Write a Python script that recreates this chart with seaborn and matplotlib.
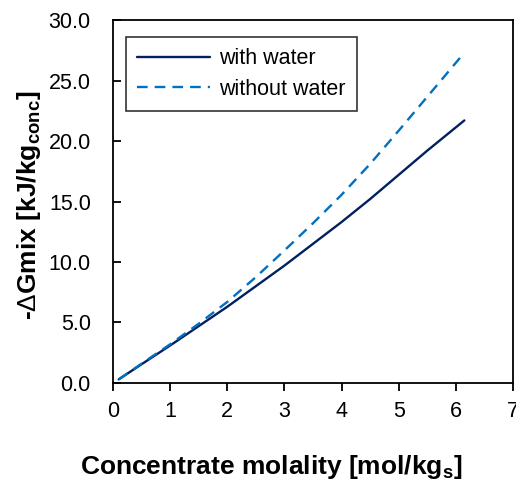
import matplotlib
matplotlib.use("Agg")
import matplotlib.pyplot as plt
import seaborn as sns
import pandas as pd

# Concentrate molality [mol/kg_s]
molality = [0.1, 0.5, 1.0, 1.5, 2.0, 2.5, 3.0, 3.5, 4.0, 4.5, 5.0, 5.5, 6.15]
# -dG_mix [kJ/kg_conc]
with_water = [0.3, 1.55, 3.1, 4.7, 6.3, 8.0, 9.7, 11.5, 13.3, 15.2, 17.2, 19.2, 21.7]
without_water = [0.3, 1.6, 3.2, 4.9, 6.7, 8.75, 10.95, 13.2, 15.55, 18.1, 20.85, 23.65, 27.3]
y_ticks = [0, 5, 10, 15, 20, 25, 30]
x_ticks = [0, 1, 2, 3, 4, 5, 6, 7]

series_names = ["with water", "without water"]
series_colors = {"with water": "#002060", "without water": "#0070C0"}
series_dashes = {"with water": "", "without water": (4.5, 3)}

df = pd.concat([
    pd.DataFrame({"m": molality, "g": with_water, "series": series_names[0]}),
    pd.DataFrame({"m": molality, "g": without_water, "series": series_names[1]}),
])

sns.set_theme(style="ticks")
plt.rcParams["font.family"] = ["Liberation Sans", "DejaVu Sans"]
plt.rcParams["mathtext.fontset"] = "custom"
plt.rcParams["mathtext.rm"] = "Liberation Sans"
plt.rcParams["mathtext.bf"] = "Liberation Sans:bold"
for key in ["text.color", "axes.labelcolor", "xtick.color", "ytick.color"]:
    plt.rcParams[key] = "black"

fig = plt.figure(figsize=(5.16, 4.82), dpi=100)
ax = fig.add_axes([0.219, 0.2054, 0.775, 0.7531])

sns.lineplot(data=df, x="m", y="g", hue="series", style="series",
             palette=series_colors, dashes=series_dashes,
             hue_order=series_names, style_order=series_names,
             linewidth=1.7, ax=ax)

ax.set_xlim(0, 7)
ax.set_ylim(0, 30)
ax.set_xticks(x_ticks)
ax.set_yticks(y_ticks)
ax.set_yticklabels([f"{v:.1f}" for v in y_ticks])

for s in ax.spines.values():
    s.set_linewidth(1.3)
    s.set_color("black")
ax.tick_params(axis="x", direction="out", length=6, width=1.3, labelsize=15.5,
               pad=7)
ax.tick_params(axis="y", direction="in", length=6, width=1.3, labelsize=15.5,
               pad=16)

ax.set_xlabel(r"Concentrate molality [mol/kg$_\mathbf{s}$]", fontsize=19,
              fontweight="bold", labelpad=22)
ax.xaxis.label.set_x(0.395)
ax.set_ylabel(r"-$\Delta$Gmix [kJ/kg$_\mathbf{conc}$]", fontsize=19,
              fontweight="bold", labelpad=4)
ax.yaxis.label.set_y(0.49)

leg = ax.legend(loc="upper left", bbox_to_anchor=(0.032, 0.952), fontsize=15.5,
                frameon=True, fancybox=False, handlelength=3.4,
                borderpad=0.5, labelspacing=0.45, handletextpad=0.45,
                borderaxespad=0)
leg.get_frame().set_edgecolor("black")
leg.get_frame().set_linewidth(1.2)
leg.set_title(None)

fig.savefig("out.png", dpi=100)
